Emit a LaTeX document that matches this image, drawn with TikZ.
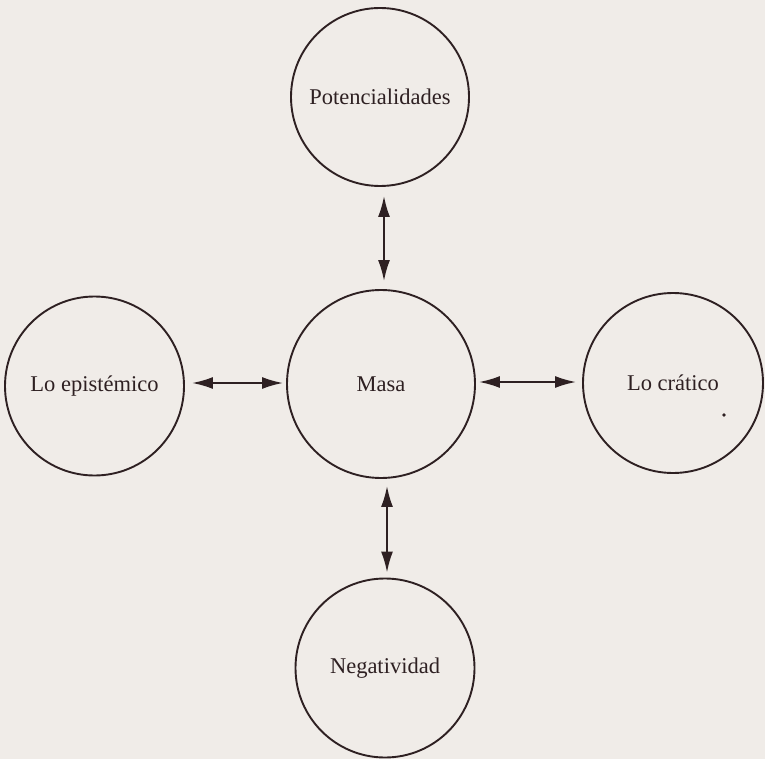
\documentclass[tikz,border=0pt]{standalone}
\usepackage{fontspec}
\setmainfont{Liberation Serif}
\usetikzlibrary{arrows.meta,calc}
\definecolor{ink}{HTML}{2E2022}
\definecolor{paper}{HTML}{F0ECE8}
\begin{document}
\begin{tikzpicture}[x=1pt,y=-1pt,
  bub/.style={circle, draw=ink, line width=1.9pt, inner sep=0pt, text=ink,
    font=\fontsize{22.5}{24}\selectfont},
  arr/.style={draw=ink, line width=2pt, {Latex[length=21pt,width=12pt]}-{Latex[length=21pt,width=12pt]}}]
\fill[paper] (0,0) rectangle (765,759);
\useasboundingbox (0,0) rectangle (765,759);
\node[bub, minimum size=178pt] (P) at (380,97) {Potencialidades};
\node[bub, minimum size=188pt] (M) at (381,384) {Masa};
\node[bub, minimum size=179pt] (E) at (94.5,386) {Lo epistémico};
\node[bub, minimum size=180pt] (C) at (673,383) {Lo crático};
\node[bub, minimum size=179pt] (N) at (385,668) {Negatividad};
\fill[ink] (724,415) circle (1.8pt);
\draw[arr] ($(P.south)+(4,9)$) -- ($(M.north)+(3,-8)$);
\draw[arr] ($(M.south)+(6,7)$) -- ($(N.north)+(2,-5)$);
\draw[arr] ($(E.east)+(7,-3)$) -- ($(M.west)+(-3,-1)$);
\draw[arr] ($(M.east)+(3,-2)$) -- ($(C.west)+(-6,-1)$);
\end{tikzpicture}
\end{document}
